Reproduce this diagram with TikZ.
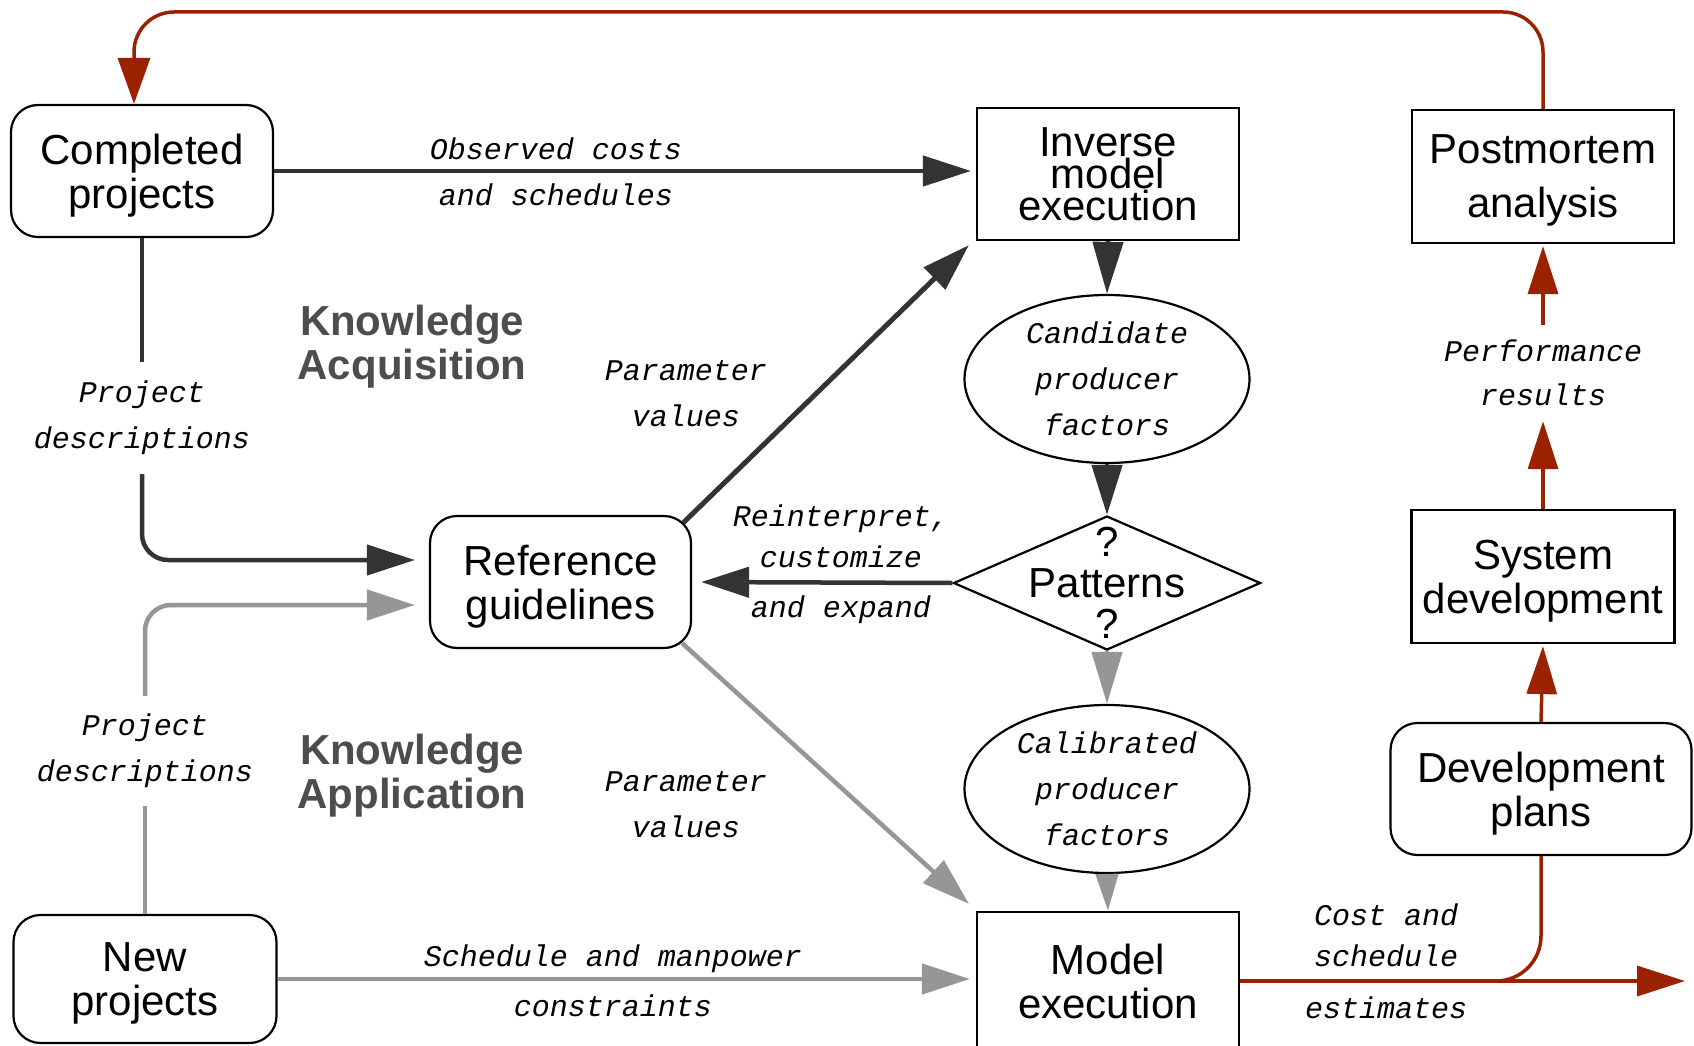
\documentclass[tikz,border=0pt]{standalone}
\usepackage{fontspec}
\setmainfont{Liberation Sans}
\newfontfamily\lblmono{Liberation Mono}
\usetikzlibrary{arrows.meta,shapes.geometric,calc}

\definecolor{inkdark}{RGB}{51,51,51}
\definecolor{inkgray}{RGB}{150,150,150}
\definecolor{inkred}{RGB}{155,34,0}
\definecolor{inktitle}{RGB}{77,77,77}

\begin{document}
\begin{tikzpicture}[x=1pt,y=-1pt,
  boxtext/.style={font=\fontsize{42}{44}\selectfont, align=center, inner sep=0pt, text depth=0pt},
  sqbox/.style={boxtext, draw=black, line width=2.2pt, minimum width=262pt, minimum height=132pt},
  rndbox/.style={sqbox, rounded corners=27pt},
  oval/.style={ellipse, draw=black, line width=2.2pt, minimum width=285pt, minimum height=168pt, inner sep=0pt,
    align=center, font=\lblmono\itshape\fontsize{30}{46}\selectfont},
  lbl/.style={font=\lblmono\itshape\fontsize{30}{46}\selectfont, align=center, inner sep=0pt},
  title/.style={font=\bfseries\fontsize{42}{44}\selectfont, text=inktitle, align=center, inner sep=0pt},
  tipd/.style={-{Triangle[length=48pt,width=30pt]}},
  darkline/.style={draw=inkdark, line width=4.5pt},
  grayline/.style={draw=inkgray, line width=4.5pt},
  redline/.style={draw=inkred, line width=3.5pt},
]
\fill[white] (0,0) rectangle (1694,1046);
\useasboundingbox (0,0) rectangle (1694,1046);

% boxes
\node[rndbox, minimum width=262pt, minimum height=132pt] (comp) at (142,171) {Completed\\projects};
\node[sqbox, font=\fontsize{42}{32}\selectfont] (inv) at (1108,174) {Inverse\\model\\execution};
\node[sqbox, font=\fontsize{42}{54}\selectfont, minimum height=133pt] (post) at (1543,176.5) {Postmortem\\analysis};
\node[oval] (cand) at (1107,379) {Candidate\\producer\\factors};
\node[rndbox, minimum width=261pt] (ref) at (560.5,582) {Reference\\guidelines};
\node[diamond, draw=black, line width=2.2pt, minimum width=307pt, minimum height=134pt, inner sep=0pt] (pat) at (1107,583) {};
\node[boxtext, font=\fontsize{42}{41}\selectfont] (pattxt) at (pat) {?\\Patterns\\?};
\node[sqbox, minimum width=263pt, minimum height=133pt] (sys) at (1543,576.5) {System\\development};
\node[oval] (cal) at (1107,789) {Calibrated\\producer\\factors};
\node[rndbox, minimum width=301pt] (dev) at (1541,789) {Development\\plans};
\node[sqbox, minimum height=138pt] (model) at (1108,981) {Model\\execution};
\node[rndbox, minimum width=263pt, minimum height=128pt] (new) at (145,979) {New\\projects};

% section titles
\node[title] (ka) at (412,347) {Knowledge\\Acquisition};
\node[title] (kp) at (412,776) {Knowledge\\Application};

% flow labels
\node[lbl] (obs) at (556,172) {Observed costs\\and schedules};
\node[lbl, inner ysep=19pt] (pd1) at (142,418) {Project\\descriptions};
\node[lbl, inner ysep=18pt] (pd2) at (145,751) {Project\\descriptions};
\node[lbl] (pv1) at (686,394) {Parameter\\values};
\node[lbl] (pv2) at (686,805) {Parameter\\values};
\node[lbl, font=\lblmono\itshape\fontsize{30}{41}\selectfont] (rei) at (841,564) {Reinterpret,\\customize\\[9pt]and expand};
\node[lbl, font=\lblmono\itshape\fontsize{30}{50}\selectfont] (sch) at (613,981) {Schedule and manpower\\constraints};
\node[lbl, font=\lblmono\itshape\fontsize{30}{44}\selectfont, inner ysep=15pt] (perf) at (1543,373) {Performance\\results};
\node[lbl, font=\lblmono\itshape\fontsize{30}{41}\selectfont] (est) at (1386,961) {Cost and\\schedule\\[11pt]estimates};

% knowledge acquisition (dark)
\draw[darkline, tipd, shorten >=5pt] (comp.east) -- (comp.east -| inv.west);
\draw[darkline] (comp.south) -- (pd1.north);
\draw[darkline, tipd, rounded corners=26pt] (pd1.south) |- ($(ref.west)+(-14,-22)$);
\draw[darkline, line width=5pt, tipd] ([xshift=-9pt,yshift=-8pt]ref.north east) -- ([xshift=-7pt,yshift=-4pt]inv.south west);
\draw[darkline, -{Triangle[length=52pt,width=30pt]}] (inv.south) -- (cand.north);
\draw[darkline, -{Triangle[length=50pt,width=30pt]}] (cand.south) -- (pat.north);
\draw[darkline, tipd, shorten >=9pt] (pat.west) -- (ref.east);

% knowledge application (gray)
\draw[grayline] (new.north) -- (pd2.south);
\draw[grayline, tipd, rounded corners=26pt] (pd2.north) |- ($(ref.west)+(-14,23)$);
\draw[grayline, tipd] ([xshift=-10pt,yshift=6pt]ref.south east) -- ([xshift=-7pt,yshift=7pt]model.north west);
\draw[grayline, -{Triangle[length=52pt,width=30pt]}] (pat.south) -- (cal.north);
\draw[grayline, -{Triangle[length=37pt,width=22pt]}] (cal.south) -- (model.north);
\draw[grayline, tipd, shorten >=6pt] (new.east) -- (new.east -| model.west);

% development and feedback (red)
\coordinate (estout) at (1685,981);
\draw[redline, tipd] (model.east) -- (estout);
\draw[redline, rounded corners=45pt] (model.east) -| (dev.south);
\draw[redline, tipd, shorten >=2pt] (dev.north) -- (sys.south);
\draw[redline, tipd] (sys.north) -- (perf.south);
\draw[redline, tipd, shorten >=2pt] (perf.north) -- (post.south);
\coordinate (cin) at ([xshift=-8pt]comp.north);
\draw[redline, -{Triangle[length=46pt,width=32pt]}, rounded corners=40pt]
  (post.north) -- (post.north |- 0,12) -- (cin |- 0,12) -- (cin);
\end{tikzpicture}
\end{document}
